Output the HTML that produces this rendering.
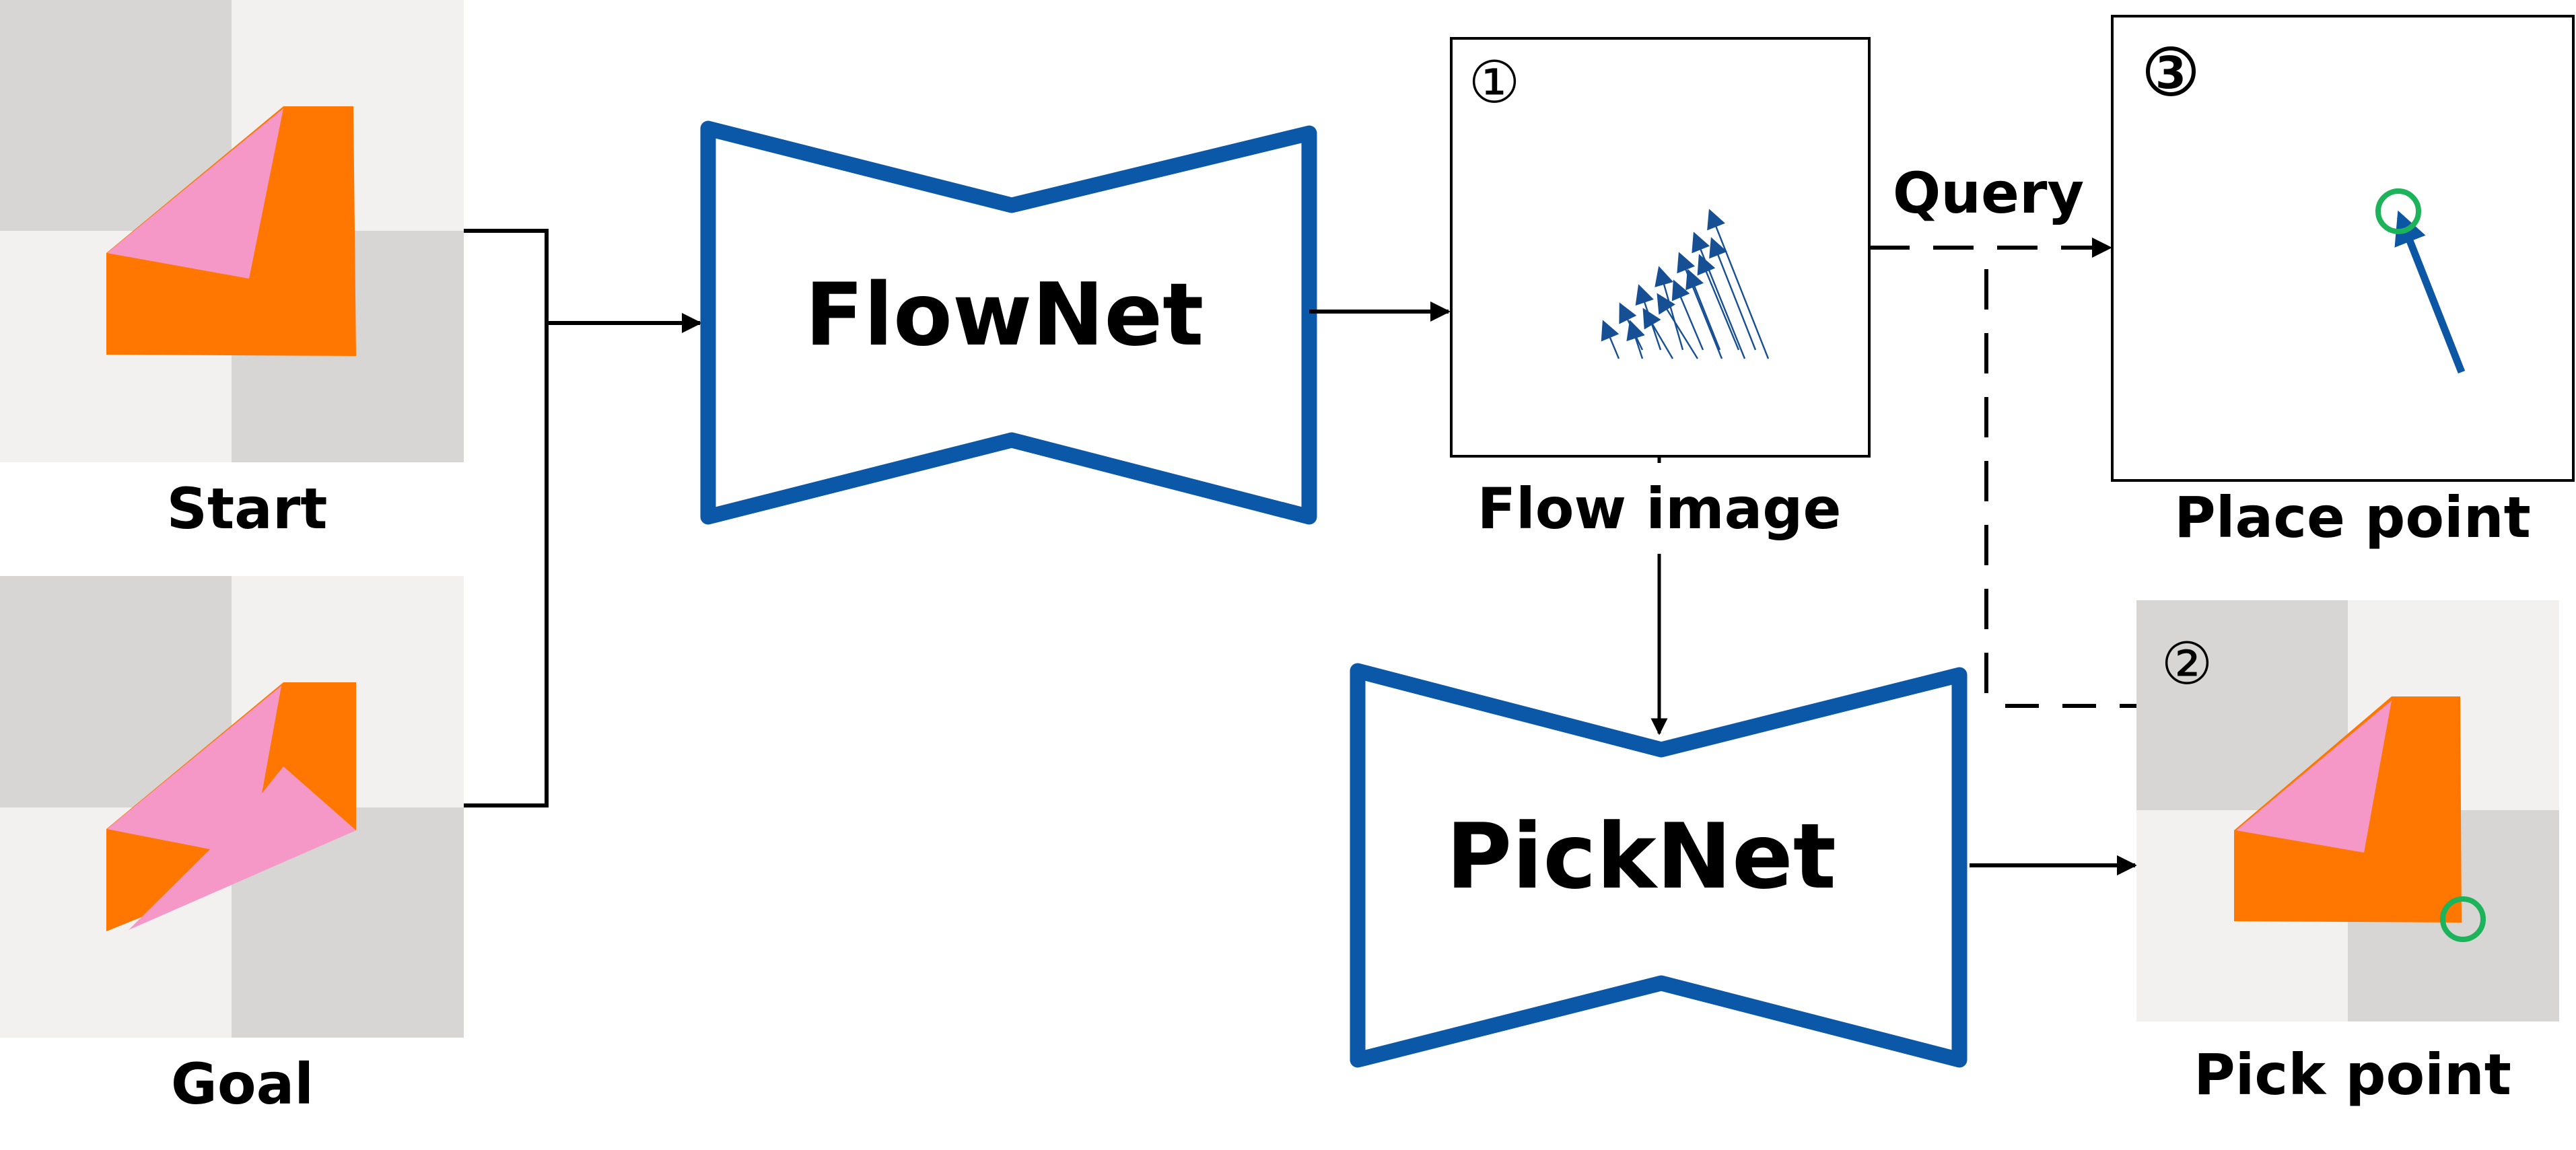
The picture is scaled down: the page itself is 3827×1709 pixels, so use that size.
<!DOCTYPE html>
<html><head><meta charset="utf-8"><style>
html,body{margin:0;padding:0;background:#fff;}
svg{display:block;}
text{font-family:"DejaVu Sans","Liberation Sans",sans-serif;font-weight:bold;fill:#000;}
</style></head><body>
<svg width="3827" height="1709" viewBox="0 0 3827 1709" xmlns="http://www.w3.org/2000/svg">
<defs>
<marker id="ah" viewBox="0 0 10 10" refX="9" refY="5" markerWidth="5" markerHeight="5" orient="auto" markerUnits="strokeWidth"><path d="M0,0 L10,5 L0,10 z" fill="#000"/></marker>
<marker id="fh" viewBox="0 0 10 10" refX="9" refY="5" markerWidth="13" markerHeight="12" orient="auto" markerUnits="strokeWidth"><path d="M0,0 L10,5 L0,10 z" fill="#174f94"/></marker>
<marker id="ph" viewBox="0 0 10 10" refX="8" refY="5" markerWidth="4.5" markerHeight="4.5" orient="auto" markerUnits="strokeWidth"><path d="M0,0 L10,5 L0,10 z" fill="#0b57a4"/></marker>
</defs>
<rect width="3827" height="1709" fill="#fff"/>

<!-- Start image -->
<rect x="0" y="0" width="689" height="687" fill="#f3f1ef"/>
<rect x="0" y="0" width="344" height="343" fill="#d8d6d4"/>
<rect x="344" y="343" width="345" height="344" fill="#d8d6d4"/>
<polygon points="421,158 525,158 529,529 158,527 158,376" fill="#ff7700"/>
<polygon points="421,161 159,376 370,414" fill="#f598c8"/>
<text x="367" y="785" font-size="84" text-anchor="middle">Start</text>

<!-- Goal image -->
<rect x="0" y="856" width="689" height="686" fill="#f3f1ef"/>
<rect x="0" y="856" width="344" height="344" fill="#d8d6d4"/>
<rect x="344" y="1200" width="345" height="342" fill="#d8d6d4"/>
<polygon points="421,1014 529,1014 529,1234 158,1384 158,1232" fill="#ff7700"/>
<polygon points="418,1019 389,1179 421,1139 529,1234 191,1382 312,1262 159,1232" fill="#f598c8"/>
<text x="360" y="1640" font-size="84" text-anchor="middle">Goal</text>

<!-- bracket -->
<polyline points="689,343 812,343 812,1197 689,1197" fill="none" stroke="#000" stroke-width="6"/>
<line x1="812" y1="480" x2="1040" y2="480" stroke="#000" stroke-width="6" marker-end="url(#ah)"/>

<!-- FlowNet -->
<polygon points="1052,191 1503,305 1945,198 1945,768 1503,654 1052,768" fill="#fff" stroke="#0b57a8" stroke-width="23" stroke-linejoin="round"/>
<text x="1492" y="512" font-size="128" text-anchor="middle">FlowNet</text>
<line x1="1945" y1="463" x2="2152" y2="463" stroke="#000" stroke-width="6" marker-end="url(#ah)"/>

<!-- Flow image -->
<rect x="2156" y="57" width="621" height="621" fill="#fff" stroke="#000" stroke-width="4"/>
<text x="2220" y="152" font-size="86" text-anchor="middle" style="font-weight:normal">①</text>
<g stroke="#174f94" stroke-width="2.4">
<line x1="2405" y1="533" x2="2382" y2="478" marker-end="url(#fh)"/>
<line x1="2440" y1="520" x2="2407" y2="452" marker-end="url(#fh)"/>
<line x1="2440" y1="533" x2="2422" y2="478" marker-end="url(#fh)"/>
<line x1="2467" y1="520" x2="2435" y2="425" marker-end="url(#fh)"/>
<line x1="2485" y1="533" x2="2442" y2="460" marker-end="url(#fh)"/>
<line x1="2500" y1="520" x2="2465" y2="398" marker-end="url(#fh)"/>
<line x1="2522" y1="533" x2="2463" y2="438" marker-end="url(#fh)"/>
<line x1="2530" y1="520" x2="2487" y2="418" marker-end="url(#fh)"/>
<line x1="2558" y1="533" x2="2495" y2="377" marker-end="url(#fh)"/>
<line x1="2555" y1="520" x2="2508" y2="402" marker-end="url(#fh)"/>
<line x1="2592" y1="533" x2="2517" y2="347" marker-end="url(#fh)"/>
<line x1="2583" y1="520" x2="2525" y2="380" marker-end="url(#fh)"/>
<line x1="2627" y1="533" x2="2540" y2="313" marker-end="url(#fh)"/>
<line x1="2608" y1="520" x2="2543" y2="355" marker-end="url(#fh)"/>
</g>
<line x1="2465" y1="678" x2="2465" y2="688" stroke="#000" stroke-width="5"/>
<text x="2465" y="785" font-size="84" text-anchor="middle">Flow image</text>
<line x1="2465" y1="823" x2="2465" y2="1090" stroke="#000" stroke-width="5" marker-end="url(#ah)"/>

<!-- Query dashed -->
<text x="2954" y="316" font-size="84" text-anchor="middle">Query</text>
<line x1="2777" y1="368" x2="3135" y2="368" stroke="#000" stroke-width="6" stroke-dasharray="60,35" marker-end="url(#ah)"/>
<line x1="2951" y1="400" x2="2951" y2="1049" stroke="#000" stroke-width="6" stroke-dasharray="60,35"/>
<line x1="2979" y1="1049" x2="3174" y2="1049" stroke="#000" stroke-width="6" stroke-dasharray="50,35"/>

<!-- Place point -->
<rect x="3138" y="24" width="685" height="690" fill="#fff" stroke="#000" stroke-width="4"/>
<circle cx="3225" cy="106" r="34" fill="#fff" stroke="#000" stroke-width="6"/>
<text x="3225" y="131" font-size="66" text-anchor="middle">3</text>
<line x1="3657" y1="553" x2="3566" y2="322" stroke="#0b57a4" stroke-width="11" marker-end="url(#ph)"/>
<circle cx="3563" cy="314" r="30" fill="none" stroke="#1db35a" stroke-width="8"/>
<text x="3495" y="798" font-size="84" text-anchor="middle">Place point</text>

<!-- PickNet -->
<polygon points="2017,997 2468,1114 2911,1003 2911,1575 2468,1461 2017,1575" fill="#fff" stroke="#0b57a8" stroke-width="23" stroke-linejoin="round"/>
<text x="2438" y="1319" font-size="134" text-anchor="middle">PickNet</text>
<line x1="2926" y1="1286" x2="3172" y2="1286" stroke="#000" stroke-width="6" marker-end="url(#ah)"/>

<!-- Pick image -->
<rect x="3174" y="892" width="628" height="626" fill="#f3f1ef"/>
<rect x="3174" y="892" width="314" height="312" fill="#d8d6d4"/>
<rect x="3488" y="1204" width="314" height="314" fill="#d8d6d4"/>
<polygon points="3553,1035 3655,1035 3657,1371 3319,1369 3319,1234" fill="#ff7700"/>
<polygon points="3553,1041 3322,1234 3512,1267" fill="#f598c8"/>
<circle cx="3659" cy="1366" r="30" fill="none" stroke="#1db35a" stroke-width="8"/>
<text x="3249" y="1016" font-size="86" text-anchor="middle" style="font-weight:normal">②</text>
<text x="3495" y="1626" font-size="84" text-anchor="middle">Pick point</text>
</svg>
</body></html>
